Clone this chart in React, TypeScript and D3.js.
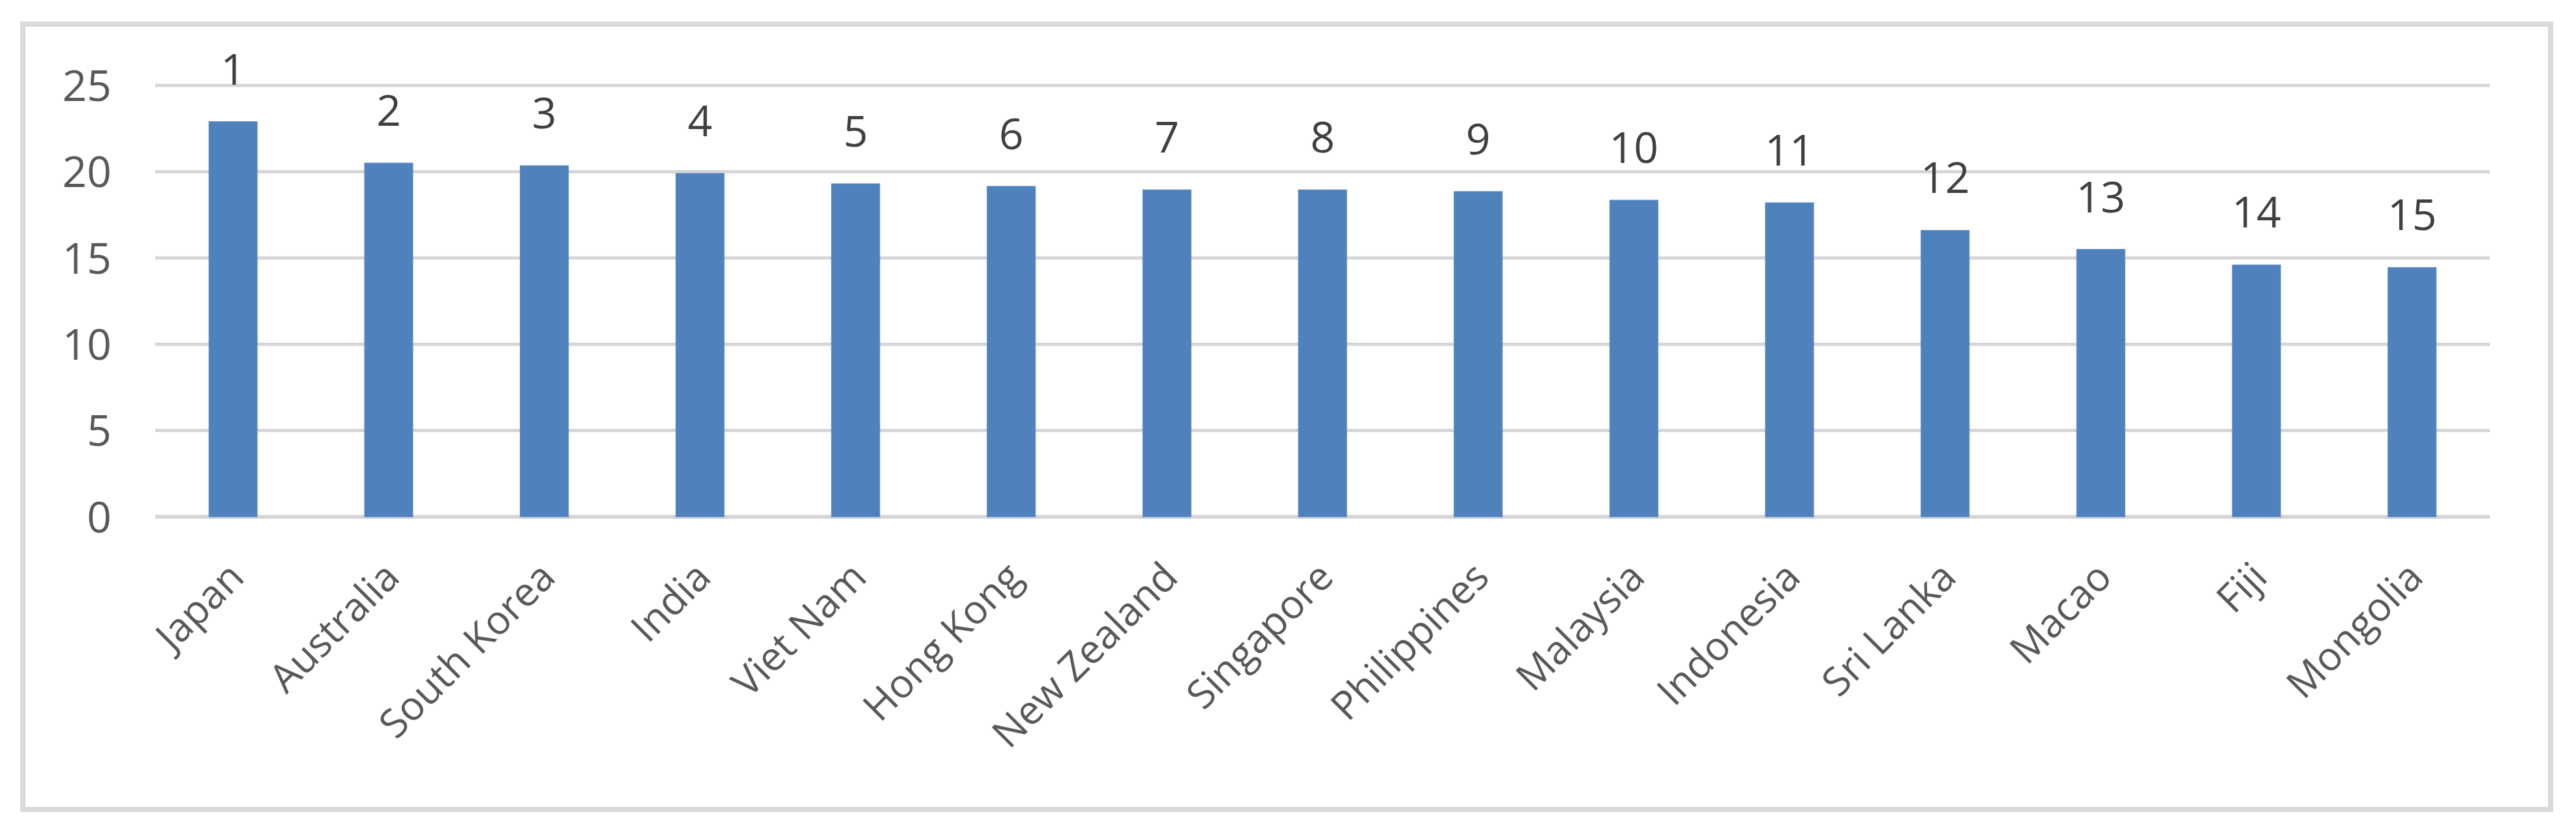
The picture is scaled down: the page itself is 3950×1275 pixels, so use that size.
import React from "react";
import * as d3 from "d3";

const categories = [
  "Japan", "Australia", "South Korea", "India", "Viet Nam", "Hong Kong",
  "New Zealand", "Singapore", "Philippines", "Malaysia", "Indonesia",
  "Sri Lanka", "Macao", "Fiji", "Mongolia",
];
const values = [22.9, 20.5, 20.35, 19.9, 19.3, 19.15, 18.95, 18.95, 18.85, 18.35, 18.2, 16.6, 15.5, 14.6, 14.45];
const ranks = ["1", "2", "3", "4", "5", "6", "7", "8", "9", "10", "11", "12", "13", "14", "15"];
const yTicks = [0, 5, 10, 15, 20, 25];

const W = 3950;
const H = 1275;
const plot = { left: 238, right: 3818, top: 131, bottom: 793 };
const FONT = "'Open Sans', 'DejaVu Sans', sans-serif";

export default function App() {
  const x = d3
    .scaleBand<string>()
    .domain(categories)
    .range([plot.left, plot.right])
    .paddingInner(0.69)
    .paddingOuter(0.345);
  const y = d3.scaleLinear().domain([0, 25]).range([plot.bottom, plot.top]);
  const bw = x.bandwidth();

  return (
    <svg
      width={W}
      height={H}
      style={{ position: "absolute", left: 0, top: 0, background: "#fff" }}
      fontFamily={FONT}
    >
      <rect x={0} y={0} width={W} height={H} fill="#ffffff" />
      <rect x={35} y={37} width={3876} height={1205} fill="#ffffff" stroke="#d9d9d9" strokeWidth={8} />
      {yTicks.map((t) => (
        <g key={t}>
          <line
            x1={plot.left}
            x2={plot.right}
            y1={y(t)}
            y2={y(t)}
            stroke="#d6d6d6"
            strokeWidth={t === 0 ? 6 : 5}
          />
          <text
            x={171}
            y={y(t)}
            dy="0.36em"
            textAnchor="end"
            fontSize={66}
            fill="#595959"
          >
            {t}
          </text>
        </g>
      ))}
      {categories.map((c, i) => {
        const cx = (x(c) as number) + bw / 2;
        return (
          <g key={c}>
            <rect
              x={x(c)}
              y={y(values[i])}
              width={bw}
              height={y(0) - y(values[i])}
              fill="#4f81bd"
              stroke="#5b8bc6"
              strokeWidth={1}
            />
            <text
              x={cx}
              y={y(values[i]) - 57}
              textAnchor="middle"
              fontSize={66}
              fill="#404040"
            >
              {ranks[i]}
            </text>
            <text
              transform={`translate(${cx + 20},${plot.bottom + 96}) rotate(-45)`}
              textAnchor="end"
              fontSize={61}
              fill="#595959"
            >
              {c}
            </text>
          </g>
        );
      })}
    </svg>
  );
}
